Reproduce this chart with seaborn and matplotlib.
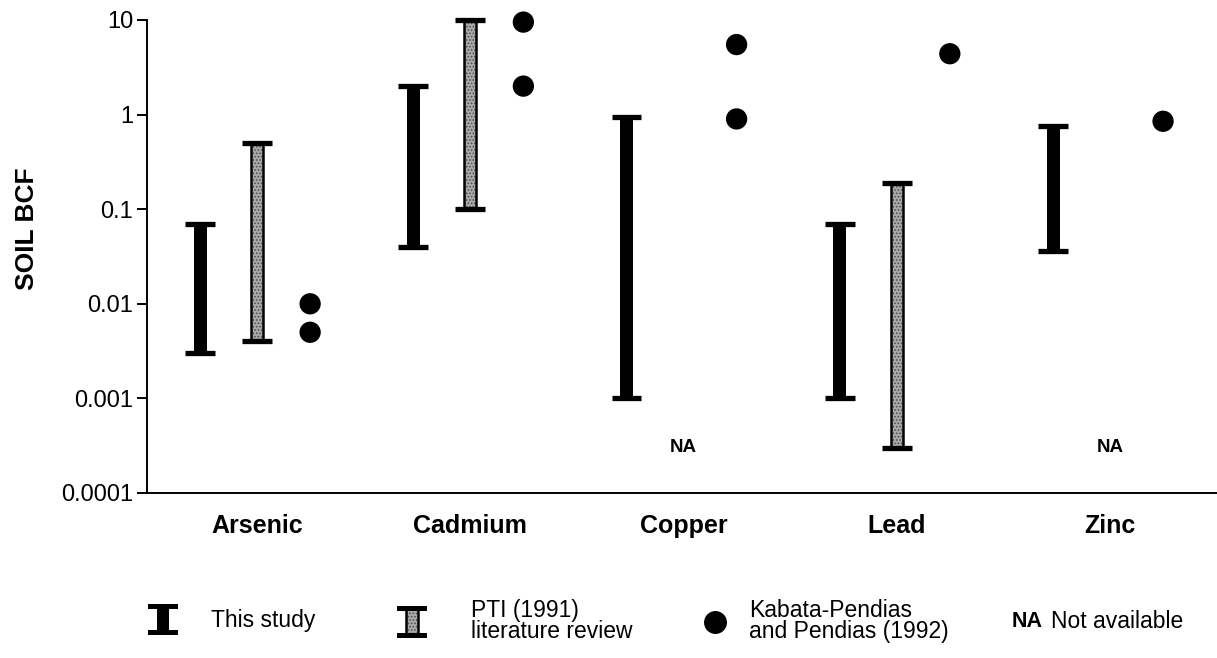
import numpy as np
import pandas as pd
import matplotlib
matplotlib.use("Agg")
import matplotlib.pyplot as plt
from matplotlib.patches import Rectangle
from matplotlib.lines import Line2D
from matplotlib.text import Text
from matplotlib.legend_handler import HandlerBase
from matplotlib.ticker import FixedLocator, FixedFormatter, NullLocator
import seaborn as sns

# ---- data -------------------------------------------------------------
elements = ["Arsenic", "Cadmium", "Copper", "Lead", "Zinc"]

# soil bioconcentration factor ranges, this study
study_low = [0.003, 0.04, 0.001, 0.001, 0.036]
study_high = [0.07, 2.0, 0.95, 0.07, 0.75]

# PTI (1991) literature review ranges (NaN = not available)
pti_low = [0.004, 0.1, np.nan, 0.0003, np.nan]
pti_high = [0.5, 10.0, np.nan, 0.19, np.nan]

# Kabata-Pendias and Pendias (1992) point values
kp_element = ["Arsenic", "Arsenic", "Cadmium", "Cadmium", "Copper", "Copper", "Lead", "Zinc"]
kp_value = [0.01, 0.005, 9.5, 2.0, 5.5, 0.9, 4.4, 0.85]

y_ticks = [0.0001, 0.001, 0.01, 0.1, 1, 10]
y_tick_labels = ["0.0001", "0.001", "0.01", "0.1", "1", "10"]

# ---- style ------------------------------------------------------------
sns.set_style("ticks")
plt.rcParams["font.family"] = ["Liberation Sans", "DejaVu Sans"]
plt.rcParams["hatch.linewidth"] = 0.7
for key in ("text.color", "axes.labelcolor", "xtick.color", "ytick.color",
            "axes.edgecolor"):
    plt.rcParams[key] = "black"

STUDY_OFF = -0.267
KP_OFF = 0.249
STUDY_W = 0.061
PTI_W = 0.056
CAP_W = 0.14
CAP_LW = 3.8
PTI_FACE = "#a8a8a8"
PTI_DOTS = "#4a4a4a"

fig = plt.figure(figsize=(12.17, 6.58), dpi=100)
ax = fig.add_axes([147 / 1217, 1 - 493 / 658, (1217 - 147) / 1217, (493 - 20) / 658])
ax.set_yscale("log")

xc = np.arange(len(elements), dtype=float)
lo_s = np.array(study_low)
hi_s = np.array(study_high)
lo_p = np.array(pti_low)
hi_p = np.array(pti_high)


def caps(x, lo, hi):
    ax.hlines([lo, hi], x - CAP_W / 2, x + CAP_W / 2, color="black",
              lw=CAP_LW, zorder=4, capstyle="butt", clip_on=False)


# this study: solid black I-beams
xs = xc + STUDY_OFF
ax.bar(xs, hi_s - lo_s, bottom=lo_s, width=STUDY_W, color="black",
       linewidth=0, zorder=3)
for x, lo, hi in zip(xs, lo_s, hi_s):
    caps(x, lo, hi)

# PTI review: stippled grey I-beams, NA where missing
has_pti = ~np.isnan(lo_p)
xp = xc[has_pti]
ax.bar(xp, (hi_p - lo_p)[has_pti], bottom=lo_p[has_pti], width=PTI_W,
       facecolor=PTI_FACE, edgecolor=PTI_DOTS, hatch=".....", linewidth=0, zorder=3)
ax.bar(xp, (hi_p - lo_p)[has_pti], bottom=lo_p[has_pti], width=PTI_W,
       facecolor="none", edgecolor="black", linewidth=1.8, zorder=3)
for x, lo, hi in zip(xp, lo_p[has_pti], hi_p[has_pti]):
    caps(x, lo, hi)
for x in xc[~has_pti]:
    ax.text(x, 3e-4, "NA", ha="center", va="center", fontsize=13.5,
            fontweight="bold", zorder=4)

# Kabata-Pendias points
kp = pd.DataFrame({"element": kp_element, "value": kp_value})
kp["x"] = kp["element"].map({e: i for i, e in enumerate(elements)}) + KP_OFF
sns.scatterplot(data=kp, x="x", y="value", ax=ax, color="black", s=235,
                edgecolor="none", linewidth=0, zorder=5, legend=False,
                clip_on=False)

# ---- axes -------------------------------------------------------------
ax.set_xlim(-0.516, 4.502)
ax.set_ylim(1e-4, 10)
ax.yaxis.set_major_locator(FixedLocator(y_ticks))
ax.yaxis.set_major_formatter(FixedFormatter(y_tick_labels))
ax.yaxis.set_minor_locator(NullLocator())
ax.set_xticks(xc)
ax.set_xticklabels(elements, fontsize=18, fontweight="bold")
ax.tick_params(axis="x", length=0, pad=15)
ax.tick_params(axis="y", length=7, width=1.4, labelsize=17, pad=3, direction="out")
ax.set_xlabel("")
ax.set_ylabel("SOIL BCF", fontsize=19, fontweight="bold")
ax.yaxis.set_label_coords(-0.101, 0.558)
sns.despine(ax=ax)
for s in ("left", "bottom"):
    ax.spines[s].set_linewidth(1.4)


# ---- legend -----------------------------------------------------------
class IBeam:
    def __init__(self, dotted):
        self.dotted = dotted


class IBeamHandler(HandlerBase):
    def create_artists(self, legend, h, xdescent, ydescent, width, height,
                       fontsize, trans):
        cx = width / 2 - xdescent
        cy = height / 2 - ydescent
        tall, bw, ct = 19.0, 8.6, 3.8
        arts = []
        if h.dotted:
            arts.append(Rectangle((cx - bw / 2, cy - tall / 2), bw, tall,
                                  facecolor=PTI_FACE, edgecolor=PTI_DOTS,
                                  hatch=".....", linewidth=0, transform=trans))
            arts.append(Rectangle((cx - bw / 2, cy - tall / 2), bw, tall,
                                  facecolor="none", edgecolor="black",
                                  linewidth=1.8, transform=trans))
        else:
            arts.append(Rectangle((cx - bw / 2, cy - tall / 2), bw, tall,
                                  facecolor="black", linewidth=0, transform=trans))
        for yy in (cy - tall / 2 - ct / 2, cy + tall / 2 - ct / 2):
            arts.append(Rectangle((cx - width / 2, yy), width, ct,
                                  facecolor="black", linewidth=0, transform=trans))
        return arts


class NAMark:
    pass


class NAHandler(HandlerBase):
    def create_artists(self, legend, h, xdescent, ydescent, width, height,
                       fontsize, trans):
        t = Text(width / 2 - xdescent, height / 2 - ydescent - 1.5, "NA",
                 ha="center", va="center", fontsize=15.5, fontweight="bold",
                 transform=trans)
        return [t]


dot = Line2D([], [], marker="o", color="black", linestyle="none", markersize=15.5)
leg_fs = 16.5
entries = [
    (IBeam(False), "This study", 148, 1.3, 1.45),
    (IBeam(True), "PTI (1991)\nliterature review", 397, 1.3, 1.95),
    (dot, "Kabata-Pendias\nand Pendias (1992)", 704, 1.0, 0.95),
    (NAMark(), "Not available", 1013, 1.2, 0.45),
]
hmap = {IBeam: IBeamHandler(), NAMark: NAHandler()}
for handle, label, xpix, hl, pad in entries:
    leg = fig.legend([handle], [label], loc="center left",
                     bbox_to_anchor=(xpix / 1217, 1 - 621 / 658),
                     frameon=False, fontsize=leg_fs, borderpad=0,
                     borderaxespad=0, handlelength=hl, handletextpad=pad,
                     handler_map=hmap)
    for t in leg.get_texts():
        t.set_linespacing(0.9)

fig.savefig("out.png", dpi=100)
